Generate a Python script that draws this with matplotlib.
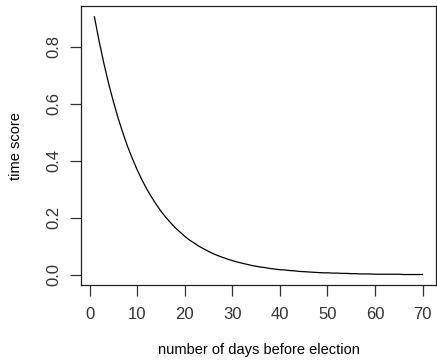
import matplotlib
matplotlib.use('Agg')
import matplotlib.pyplot as plt

plt.rcParams['font.family'] = ['Liberation Sans', 'DejaVu Sans']

# days before election and the time score
days = list(range(1, 71))
score = [0.905, 0.819, 0.741, 0.670, 0.607, 0.549, 0.497, 0.449, 0.407, 0.368,
         0.333, 0.301, 0.273, 0.247, 0.223, 0.202, 0.183, 0.165, 0.150, 0.135,
         0.122, 0.111, 0.100, 0.091, 0.082, 0.074, 0.067, 0.061, 0.055, 0.050,
         0.045, 0.041, 0.037, 0.033, 0.030, 0.027, 0.025, 0.022, 0.020, 0.018,
         0.017, 0.015, 0.014, 0.012, 0.011, 0.010, 0.009, 0.008, 0.007, 0.007,
         0.006, 0.006, 0.005, 0.005, 0.004, 0.004, 0.003, 0.003, 0.003, 0.002,
         0.002, 0.002, 0.002, 0.002, 0.002, 0.001, 0.001, 0.001, 0.001, 0.001]
xticks = [0, 10, 20, 30, 40, 50, 60, 70]
yticks = [0.0, 0.2, 0.4, 0.6, 0.8]

fig = plt.figure(figsize=(4.37, 3.61), dpi=100)
ax = fig.add_axes([0.186, 0.211, 0.811, 0.771])
ax.plot(days, score, color='black', linewidth=0.9)

# R style 4% padding
xr = max(days) - min(days)
yr = max(score) - min(score)
ax.set_xlim(min(days) - 0.04 * xr, max(days) + 0.04 * xr)
ax.set_ylim(min(score) - 0.04 * yr, max(score) + 0.04 * yr)

ax.set_xticks(xticks)
ax.set_xticklabels([str(t) for t in xticks])
ax.set_yticks(yticks)
ax.set_yticklabels(['%.1f' % t for t in yticks], rotation=90, va='center')
ax.tick_params(direction='out', length=8, width=0.9, labelsize=12,
               colors='#333333', pad=6)
ax.tick_params(axis='x', pad=8)
for s in ax.spines.values():
    s.set_linewidth(0.9)
    s.set_color('#222222')

ax.set_xlabel('number of days before election', fontsize=10.5, labelpad=15)
ax.set_ylabel('time score', fontsize=10.5, labelpad=17)

fig.savefig('out.png', dpi=100)
